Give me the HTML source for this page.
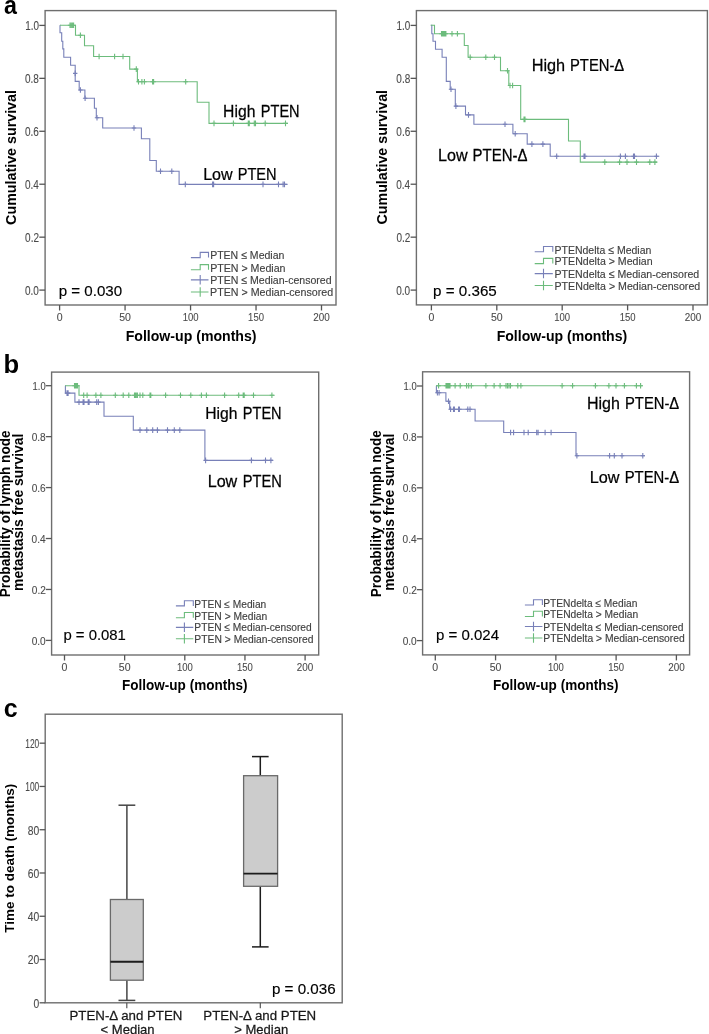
<!DOCTYPE html><html><head><meta charset="utf-8"><style>html,body{margin:0;padding:0;background:#fff}svg{display:block}text{font-family:"Liberation Sans",sans-serif}</style></head><body>
<svg width="709" height="1034" viewBox="0 0 709 1034">
<defs><filter id="sf" x="0" y="0" width="100%" height="100%" filterUnits="userSpaceOnUse"><feGaussianBlur stdDeviation="0.35"/></filter></defs>
<rect width="709" height="1034" fill="#fff"/>
<g filter="url(#sf)">
<text transform="translate(3.92 13.50) scale(0.9302 1)" font-size="25" font-weight="bold" fill="#000">a</text>
<text transform="translate(3.41 372.70) scale(1.0240 1)" font-size="25" font-weight="bold" fill="#000">b</text>
<text transform="translate(3.72 717.10) scale(1.0004 1)" font-size="25" font-weight="bold" fill="#000">c</text>
<rect x="45.10" y="10.60" width="290.90" height="294.40" fill="none" stroke="#6e6e6e" stroke-width="1.4"/>
<line x1="39.30" y1="290.10" x2="45.10" y2="290.10" stroke="#555" stroke-width="1.3"/>
<text transform="translate(24.99 294.80) scale(0.8000 1)" font-size="12.5" stroke="#4a4a4a" stroke-width="0.1" fill="#4a4a4a">0.0</text>
<line x1="39.30" y1="237.16" x2="45.10" y2="237.16" stroke="#555" stroke-width="1.3"/>
<text transform="translate(25.10 241.86) scale(0.8000 1)" font-size="12.5" stroke="#4a4a4a" stroke-width="0.1" fill="#4a4a4a">0.2</text>
<line x1="39.30" y1="184.22" x2="45.10" y2="184.22" stroke="#555" stroke-width="1.3"/>
<text transform="translate(24.89 188.92) scale(0.8000 1)" font-size="12.5" stroke="#4a4a4a" stroke-width="0.1" fill="#4a4a4a">0.4</text>
<line x1="39.30" y1="131.28" x2="45.10" y2="131.28" stroke="#555" stroke-width="1.3"/>
<text transform="translate(25.04 135.98) scale(0.8000 1)" font-size="12.5" stroke="#4a4a4a" stroke-width="0.1" fill="#4a4a4a">0.6</text>
<line x1="39.30" y1="78.34" x2="45.10" y2="78.34" stroke="#555" stroke-width="1.3"/>
<text transform="translate(25.03 83.04) scale(0.8000 1)" font-size="12.5" stroke="#4a4a4a" stroke-width="0.1" fill="#4a4a4a">0.8</text>
<line x1="39.30" y1="25.40" x2="45.10" y2="25.40" stroke="#555" stroke-width="1.3"/>
<text transform="translate(25.16 30.10) scale(0.7900 1)" font-size="12.5" stroke="#4a4a4a" stroke-width="0.1" fill="#4a4a4a">1.0</text>
<line x1="59.60" y1="305.00" x2="59.60" y2="310.50" stroke="#555" stroke-width="1.3"/>
<text transform="translate(56.66 321.20) scale(0.8950 1)" font-size="11.8" stroke="#4a4a4a" stroke-width="0.1" fill="#4a4a4a">0</text>
<line x1="125.07" y1="305.00" x2="125.07" y2="310.50" stroke="#555" stroke-width="1.3"/>
<text transform="translate(119.20 321.20) scale(0.8950 1)" font-size="11.8" stroke="#4a4a4a" stroke-width="0.1" fill="#4a4a4a">50</text>
<line x1="190.55" y1="305.00" x2="190.55" y2="310.50" stroke="#555" stroke-width="1.3"/>
<text transform="translate(182.63 321.20) scale(0.8050 1)" font-size="11.8" stroke="#4a4a4a" stroke-width="0.1" fill="#4a4a4a">100</text>
<line x1="256.03" y1="305.00" x2="256.03" y2="310.50" stroke="#555" stroke-width="1.3"/>
<text transform="translate(248.10 321.20) scale(0.8050 1)" font-size="11.8" stroke="#4a4a4a" stroke-width="0.1" fill="#4a4a4a">150</text>
<line x1="321.50" y1="305.00" x2="321.50" y2="310.50" stroke="#555" stroke-width="1.3"/>
<text transform="translate(313.23 321.20) scale(0.8400 1)" font-size="11.8" stroke="#4a4a4a" stroke-width="0.1" fill="#4a4a4a">200</text>
<path d="M59.90,25.30 H60.00 V32.70 H61.70 V41.20 H62.80 V48.90 H63.80 V57.30 H70.60 V65.20 H75.20 V73.40 H75.20 V81.40 H79.20 V90.00 H84.90 V98.30 H94.40 V108.20 H96.30 V117.80 H102.70 V128.00 H141.40 V138.70 H149.80 V160.50 H156.30 V171.20 H179.10 V184.40 H287.60" fill="none" stroke="#7880b8" stroke-width="1.1" stroke-linejoin="miter"/>
<path d="M80.40,87.20V92.80M78.20,90.00H82.60M85.10,95.50V101.10M82.90,98.30H87.30M97.00,115.00V120.60M94.80,117.80H99.20M134.00,125.20V130.80M131.80,128.00H136.20M160.50,168.40V174.00M158.30,171.20H162.70M171.80,168.40V174.00M169.60,171.20H174.00M185.30,181.60V187.20M183.10,184.40H187.50M212.60,181.60V187.20M210.40,184.40H214.80M213.60,181.60V187.20M211.40,184.40H215.80M263.00,181.60V187.20M260.80,184.40H265.20M278.50,181.60V187.20M276.30,184.40H280.70M283.10,181.60V187.20M280.90,184.40H285.30M284.50,181.60V187.20M282.30,184.40H286.70M75.20,70.60V76.20M73.00,73.40H77.40" fill="none" stroke="#7880b8" stroke-width="1.1"/>
<path d="M59.90,25.30 H75.50 V35.20 H84.50 V45.70 H93.60 V56.50 H129.70 V69.10 H137.40 V81.80 H197.20 V102.30 H209.00 V123.40 H288.00" fill="none" stroke="#6cbc7c" stroke-width="1.1" stroke-linejoin="miter"/>
<path d="M70.00,22.50V28.10M67.80,25.30H72.20M71.20,22.50V28.10M69.00,25.30H73.40M72.40,22.50V28.10M70.20,25.30H74.60M73.60,22.50V28.10M71.40,25.30H75.80M80.40,32.40V38.00M78.20,35.20H82.60M99.10,53.70V59.30M96.90,56.50H101.30M114.60,53.70V59.30M112.40,56.50H116.80M123.00,53.70V59.30M120.80,56.50H125.20M136.30,66.30V71.90M134.10,69.10H138.50M138.50,79.00V84.60M136.30,81.80H140.70M141.90,79.00V84.60M139.70,81.80H144.10M144.40,79.00V84.60M142.20,81.80H146.60M152.60,79.00V84.60M150.40,81.80H154.80M153.60,79.00V84.60M151.40,81.80H155.80M185.70,79.00V84.60M183.50,81.80H187.90M214.00,120.60V126.20M211.80,123.40H216.20M233.40,120.60V126.20M231.20,123.40H235.60M248.30,120.60V126.20M246.10,123.40H250.50M249.30,120.60V126.20M247.10,123.40H251.50M254.30,120.60V126.20M252.10,123.40H256.50M255.50,120.60V126.20M253.30,123.40H257.70M265.20,120.60V126.20M263.00,123.40H267.40M285.50,120.60V126.20M283.30,123.40H287.70" fill="none" stroke="#6cbc7c" stroke-width="1.1"/>
<text transform="translate(223.11 116.90) scale(0.9521 1)" font-size="16.5" stroke="#000" stroke-width="0.25" fill="#000">High</text>
<text transform="translate(260.81 116.90) scale(0.8812 1)" font-size="16.5" stroke="#000" stroke-width="0.25" fill="#000">PTEN</text>
<text transform="translate(203.18 179.70) scale(0.9739 1)" font-size="16.5" stroke="#000" stroke-width="0.25" fill="#000">Low</text>
<text transform="translate(237.70 179.70) scale(0.8836 1)" font-size="16.5" stroke="#000" stroke-width="0.25" fill="#000">PTEN</text>
<text transform="translate(58.73 295.90) scale(1.0426 1)" font-size="14.5" stroke="#000" stroke-width="0.15" fill="#000">p = 0.030</text>
<path d="M190.90,257.60 H200.20 V252.40 H208.50 V257.60" fill="none" stroke="#7880b8" stroke-width="1.1"/>
<text transform="translate(210.14 259.40) scale(0.9249 1)" font-size="11.4" stroke="#404040" stroke-width="0.15" fill="#404040">PTEN ≤ Median</text>
<path d="M190.90,269.80 H200.20 V264.60 H208.50 V269.80" fill="none" stroke="#6cbc7c" stroke-width="1.1"/>
<text transform="translate(210.13 271.60) scale(0.9341 1)" font-size="11.4" stroke="#404040" stroke-width="0.15" fill="#404040">PTEN &gt; Median</text>
<path d="M190.90,279.90 H208.50 M200.20,275.10 V284.60" fill="none" stroke="#7880b8" stroke-width="1.1"/>
<text transform="translate(210.13 283.90) scale(0.9273 1)" font-size="11.4" stroke="#404040" stroke-width="0.15" fill="#404040">PTEN ≤ Median-censored</text>
<path d="M190.90,292.00 H208.50 M200.20,287.20 V296.70" fill="none" stroke="#6cbc7c" stroke-width="1.1"/>
<text transform="translate(210.12 296.00) scale(0.9368 1)" font-size="11.4" stroke="#404040" stroke-width="0.15" fill="#404040">PTEN &gt; Median-censored</text>
<text transform="translate(15.70 224.89) rotate(-90) scale(1.0213 1)" font-size="14" font-weight="bold" fill="#000">Cumulative survival</text>
<text transform="translate(125.65 341.20) scale(0.9744 1)" font-size="14.5" font-weight="bold" fill="#000">Follow-up (months)</text>
<rect x="416.40" y="10.60" width="291.00" height="294.30" fill="none" stroke="#6e6e6e" stroke-width="1.4"/>
<line x1="410.60" y1="290.10" x2="416.40" y2="290.10" stroke="#555" stroke-width="1.3"/>
<text transform="translate(396.29 294.80) scale(0.8000 1)" font-size="12.5" stroke="#4a4a4a" stroke-width="0.1" fill="#4a4a4a">0.0</text>
<line x1="410.60" y1="237.16" x2="416.40" y2="237.16" stroke="#555" stroke-width="1.3"/>
<text transform="translate(396.40 241.86) scale(0.8000 1)" font-size="12.5" stroke="#4a4a4a" stroke-width="0.1" fill="#4a4a4a">0.2</text>
<line x1="410.60" y1="184.22" x2="416.40" y2="184.22" stroke="#555" stroke-width="1.3"/>
<text transform="translate(396.19 188.92) scale(0.8000 1)" font-size="12.5" stroke="#4a4a4a" stroke-width="0.1" fill="#4a4a4a">0.4</text>
<line x1="410.60" y1="131.28" x2="416.40" y2="131.28" stroke="#555" stroke-width="1.3"/>
<text transform="translate(396.34 135.98) scale(0.8000 1)" font-size="12.5" stroke="#4a4a4a" stroke-width="0.1" fill="#4a4a4a">0.6</text>
<line x1="410.60" y1="78.34" x2="416.40" y2="78.34" stroke="#555" stroke-width="1.3"/>
<text transform="translate(396.33 83.04) scale(0.8000 1)" font-size="12.5" stroke="#4a4a4a" stroke-width="0.1" fill="#4a4a4a">0.8</text>
<line x1="410.60" y1="25.40" x2="416.40" y2="25.40" stroke="#555" stroke-width="1.3"/>
<text transform="translate(396.46 30.10) scale(0.7900 1)" font-size="12.5" stroke="#4a4a4a" stroke-width="0.1" fill="#4a4a4a">1.0</text>
<line x1="431.40" y1="304.90" x2="431.40" y2="310.40" stroke="#555" stroke-width="1.3"/>
<text transform="translate(428.46 321.10) scale(0.8950 1)" font-size="11.8" stroke="#4a4a4a" stroke-width="0.1" fill="#4a4a4a">0</text>
<line x1="496.80" y1="304.90" x2="496.80" y2="310.40" stroke="#555" stroke-width="1.3"/>
<text transform="translate(490.93 321.10) scale(0.8950 1)" font-size="11.8" stroke="#4a4a4a" stroke-width="0.1" fill="#4a4a4a">50</text>
<line x1="562.20" y1="304.90" x2="562.20" y2="310.40" stroke="#555" stroke-width="1.3"/>
<text transform="translate(554.28 321.10) scale(0.8050 1)" font-size="11.8" stroke="#4a4a4a" stroke-width="0.1" fill="#4a4a4a">100</text>
<line x1="627.60" y1="304.90" x2="627.60" y2="310.40" stroke="#555" stroke-width="1.3"/>
<text transform="translate(619.68 321.10) scale(0.8050 1)" font-size="11.8" stroke="#4a4a4a" stroke-width="0.1" fill="#4a4a4a">150</text>
<line x1="693.00" y1="304.90" x2="693.00" y2="310.40" stroke="#555" stroke-width="1.3"/>
<text transform="translate(684.73 321.10) scale(0.8400 1)" font-size="11.8" stroke="#4a4a4a" stroke-width="0.1" fill="#4a4a4a">200</text>
<path d="M430.80,25.30 H431.80 V33.80 H433.00 V41.20 H435.50 V49.20 H442.10 V57.20 H446.30 V81.40 H450.20 V89.30 H455.30 V106.10 H465.50 V114.90 H473.90 V124.30 H512.90 V133.80 H527.20 V144.10 H550.20 V156.30 H659.30" fill="none" stroke="#7880b8" stroke-width="1.1" stroke-linejoin="miter"/>
<path d="M451.00,86.50V92.10M448.80,89.30H453.20M455.90,103.30V108.90M453.70,106.10H458.10M468.50,112.10V117.70M466.30,114.90H470.70M505.00,121.50V127.10M502.80,124.30H507.20M515.20,131.00V136.60M513.00,133.80H517.40M531.90,141.30V146.90M529.70,144.10H534.10M542.90,141.30V146.90M540.70,144.10H545.10M556.70,153.50V159.10M554.50,156.30H558.90M584.00,153.50V159.10M581.80,156.30H586.20M585.00,153.50V159.10M582.80,156.30H587.20M620.40,153.50V159.10M618.20,156.30H622.60M625.40,153.50V159.10M623.20,156.30H627.60M633.50,153.50V159.10M631.30,156.30H635.70M634.50,153.50V159.10M632.30,156.30H636.70M656.40,153.50V159.10M654.20,156.30H658.60" fill="none" stroke="#7880b8" stroke-width="1.1"/>
<path d="M430.80,25.30 H434.50 V33.80 H464.30 V45.50 H468.10 V57.20 H500.50 V70.80 H508.80 V85.50 H520.70 V119.40 H568.50 V141.00 H580.30 V162.10 H657.40" fill="none" stroke="#6cbc7c" stroke-width="1.1" stroke-linejoin="miter"/>
<path d="M441.50,31.00V36.60M439.30,33.80H443.70M442.60,31.00V36.60M440.40,33.80H444.80M443.70,31.00V36.60M441.50,33.80H445.90M444.80,31.00V36.60M442.60,33.80H447.00M445.90,31.00V36.60M443.70,33.80H448.10M452.00,31.00V36.60M449.80,33.80H454.20M457.40,31.00V36.60M455.20,33.80H459.60M470.20,54.40V60.00M468.00,57.20H472.40M485.80,54.40V60.00M483.60,57.20H488.00M494.50,54.40V60.00M492.30,57.20H496.70M507.50,68.00V73.60M505.30,70.80H509.70M510.00,82.70V88.30M507.80,85.50H512.20M512.60,82.70V88.30M510.40,85.50H514.80M524.00,116.60V122.20M521.80,119.40H526.20M525.00,116.60V122.20M522.80,119.40H527.20M604.80,159.30V164.90M602.60,162.10H607.00M619.60,159.30V164.90M617.40,162.10H621.80M627.00,159.30V164.90M624.80,162.10H629.20M636.50,159.30V164.90M634.30,162.10H638.70M649.80,159.30V164.90M647.60,162.10H652.00M654.90,159.30V164.90M652.70,162.10H657.10" fill="none" stroke="#6cbc7c" stroke-width="1.1"/>
<text transform="translate(531.66 70.90) scale(0.9870 1)" font-size="16.5" stroke="#000" stroke-width="0.25" fill="#000">High</text>
<text transform="translate(569.99 70.90) scale(0.8966 1)" font-size="16.5" stroke="#000" stroke-width="0.25" fill="#000">PTEN-Δ</text>
<text transform="translate(438.08 160.90) scale(0.9774 1)" font-size="16.5" stroke="#000" stroke-width="0.25" fill="#000">Low</text>
<text transform="translate(472.57 160.90) scale(0.9068 1)" font-size="16.5" stroke="#000" stroke-width="0.25" fill="#000">PTEN-Δ</text>
<text transform="translate(433.12 296.10) scale(1.0467 1)" font-size="14.5" stroke="#000" stroke-width="0.15" fill="#000">p = 0.365</text>
<path d="M534.70,251.70 H543.50 V246.50 H552.80 V251.70" fill="none" stroke="#7880b8" stroke-width="1.1"/>
<text transform="translate(554.54 253.50) scale(0.9214 1)" font-size="11.4" stroke="#404040" stroke-width="0.15" fill="#404040">PTENdelta ≤ Median</text>
<path d="M534.70,263.60 H543.50 V258.40 H552.80 V263.60" fill="none" stroke="#6cbc7c" stroke-width="1.1"/>
<text transform="translate(554.53 265.40) scale(0.9304 1)" font-size="11.4" stroke="#404040" stroke-width="0.15" fill="#404040">PTENdelta &gt; Median</text>
<path d="M534.70,273.60 H552.80 M543.50,268.80 V278.30" fill="none" stroke="#7880b8" stroke-width="1.1"/>
<text transform="translate(554.53 277.60) scale(0.9291 1)" font-size="11.4" stroke="#404040" stroke-width="0.15" fill="#404040">PTENdelta ≤ Median-censored</text>
<path d="M534.70,285.50 H552.80 M543.50,280.70 V290.20" fill="none" stroke="#6cbc7c" stroke-width="1.1"/>
<text transform="translate(554.53 289.50) scale(0.9338 1)" font-size="11.4" stroke="#404040" stroke-width="0.15" fill="#404040">PTENdelta &gt; Median-censored</text>
<text transform="translate(386.60 224.48) rotate(-90) scale(1.0183 1)" font-size="14" font-weight="bold" fill="#000">Cumulative survival</text>
<text transform="translate(496.66 341.30) scale(0.9714 1)" font-size="14.5" font-weight="bold" fill="#000">Follow-up (months)</text>
<rect x="51.60" y="372.10" width="267.10" height="282.90" fill="none" stroke="#6e6e6e" stroke-width="1.4"/>
<line x1="45.80" y1="640.40" x2="51.60" y2="640.40" stroke="#555" stroke-width="1.3"/>
<text transform="translate(31.66 644.80) scale(0.8700 1)" font-size="11.6" stroke="#4a4a4a" stroke-width="0.1" fill="#4a4a4a">0.0</text>
<line x1="45.80" y1="589.46" x2="51.60" y2="589.46" stroke="#555" stroke-width="1.3"/>
<text transform="translate(31.78 593.86) scale(0.8700 1)" font-size="11.6" stroke="#4a4a4a" stroke-width="0.1" fill="#4a4a4a">0.2</text>
<line x1="45.80" y1="538.52" x2="51.60" y2="538.52" stroke="#555" stroke-width="1.3"/>
<text transform="translate(31.57 542.92) scale(0.8700 1)" font-size="11.6" stroke="#4a4a4a" stroke-width="0.1" fill="#4a4a4a">0.4</text>
<line x1="45.80" y1="487.58" x2="51.60" y2="487.58" stroke="#555" stroke-width="1.3"/>
<text transform="translate(31.71 491.98) scale(0.8700 1)" font-size="11.6" stroke="#4a4a4a" stroke-width="0.1" fill="#4a4a4a">0.6</text>
<line x1="45.80" y1="436.64" x2="51.60" y2="436.64" stroke="#555" stroke-width="1.3"/>
<text transform="translate(31.71 441.04) scale(0.8700 1)" font-size="11.6" stroke="#4a4a4a" stroke-width="0.1" fill="#4a4a4a">0.8</text>
<line x1="45.80" y1="385.70" x2="51.60" y2="385.70" stroke="#555" stroke-width="1.3"/>
<text transform="translate(32.61 390.10) scale(0.8100 1)" font-size="11.6" stroke="#4a4a4a" stroke-width="0.1" fill="#4a4a4a">1.0</text>
<line x1="64.50" y1="655.00" x2="64.50" y2="660.50" stroke="#555" stroke-width="1.3"/>
<text transform="translate(61.56 670.60) scale(0.8950 1)" font-size="11.8" stroke="#4a4a4a" stroke-width="0.1" fill="#4a4a4a">0</text>
<line x1="124.65" y1="655.00" x2="124.65" y2="660.50" stroke="#555" stroke-width="1.3"/>
<text transform="translate(118.78 670.60) scale(0.8950 1)" font-size="11.8" stroke="#4a4a4a" stroke-width="0.1" fill="#4a4a4a">50</text>
<line x1="184.80" y1="655.00" x2="184.80" y2="660.50" stroke="#555" stroke-width="1.3"/>
<text transform="translate(176.88 670.60) scale(0.8050 1)" font-size="11.8" stroke="#4a4a4a" stroke-width="0.1" fill="#4a4a4a">100</text>
<line x1="244.95" y1="655.00" x2="244.95" y2="660.50" stroke="#555" stroke-width="1.3"/>
<text transform="translate(237.03 670.60) scale(0.8050 1)" font-size="11.8" stroke="#4a4a4a" stroke-width="0.1" fill="#4a4a4a">150</text>
<line x1="305.10" y1="655.00" x2="305.10" y2="660.50" stroke="#555" stroke-width="1.3"/>
<text transform="translate(296.83 670.60) scale(0.8400 1)" font-size="11.8" stroke="#4a4a4a" stroke-width="0.1" fill="#4a4a4a">200</text>
<path d="M65.10,385.70 H65.40 V393.10 H74.90 V402.10 H104.00 V416.20 H133.30 V430.10 H204.90 V460.40 H273.30" fill="none" stroke="#7880b8" stroke-width="1.1" stroke-linejoin="miter"/>
<path d="M67.00,390.30V395.90M64.80,393.10H69.20M68.10,390.30V395.90M65.90,393.10H70.30M79.00,399.30V404.90M76.80,402.10H81.20M83.10,399.30V404.90M80.90,402.10H85.30M84.00,399.30V404.90M81.80,402.10H86.20M88.20,399.30V404.90M86.00,402.10H90.40M89.10,399.30V404.90M86.90,402.10H91.30M96.70,399.30V404.90M94.50,402.10H98.90M98.40,399.30V404.90M96.20,402.10H100.60M140.00,427.30V432.90M137.80,430.10H142.20M146.80,427.30V432.90M144.60,430.10H149.00M152.70,427.30V432.90M150.50,430.10H154.90M157.40,427.30V432.90M155.20,430.10H159.60M167.50,427.30V432.90M165.30,430.10H169.70M174.30,427.30V432.90M172.10,430.10H176.50M179.80,427.30V432.90M177.60,430.10H182.00M205.60,457.60V463.20M203.40,460.40H207.80M251.40,457.60V463.20M249.20,460.40H253.60M265.50,457.60V463.20M263.30,460.40H267.70M270.90,457.60V463.20M268.70,460.40H273.10" fill="none" stroke="#7880b8" stroke-width="1.1"/>
<path d="M65.10,385.70 H79.00 V395.20 H274.70" fill="none" stroke="#6cbc7c" stroke-width="1.1" stroke-linejoin="miter"/>
<path d="M74.50,382.90V388.50M72.30,385.70H76.70M75.50,382.90V388.50M73.30,385.70H77.70M76.50,382.90V388.50M74.30,385.70H78.70M77.50,382.90V388.50M75.30,385.70H79.70M83.70,392.40V398.00M81.50,395.20H85.90M87.10,392.40V398.00M84.90,395.20H89.30M95.90,392.40V398.00M93.70,395.20H98.10M100.90,392.40V398.00M98.70,395.20H103.10M115.30,392.40V398.00M113.10,395.20H117.50M123.20,392.40V398.00M121.00,395.20H125.40M128.80,392.40V398.00M126.60,395.20H131.00M134.50,392.40V398.00M132.30,395.20H136.70M135.30,392.40V398.00M133.10,395.20H137.50M136.20,392.40V398.00M134.00,395.20H138.40M137.40,392.40V398.00M135.20,395.20H139.60M140.00,392.40V398.00M137.80,395.20H142.20M142.80,392.40V398.00M140.60,395.20H145.00M150.00,392.40V398.00M147.80,395.20H152.20M150.80,392.40V398.00M148.60,395.20H153.00M165.60,392.40V398.00M163.40,395.20H167.80M180.50,392.40V398.00M178.30,395.20H182.70M190.80,392.40V398.00M188.60,395.20H193.00M201.40,392.40V398.00M199.20,395.20H203.60M206.40,392.40V398.00M204.20,395.20H208.60M224.60,392.40V398.00M222.40,395.20H226.80M238.70,392.40V398.00M236.50,395.20H240.90M243.20,392.40V398.00M241.00,395.20H245.40M244.20,392.40V398.00M242.00,395.20H246.40M253.50,392.40V398.00M251.30,395.20H255.70M271.90,392.40V398.00M269.70,395.20H274.10" fill="none" stroke="#6cbc7c" stroke-width="1.1"/>
<text transform="translate(205.22 418.70) scale(0.9489 1)" font-size="16.5" stroke="#000" stroke-width="0.25" fill="#000">High</text>
<text transform="translate(242.81 418.70) scale(0.8812 1)" font-size="16.5" stroke="#000" stroke-width="0.25" fill="#000">PTEN</text>
<text transform="translate(207.68 486.70) scale(0.9774 1)" font-size="16.5" stroke="#000" stroke-width="0.25" fill="#000">Low</text>
<text transform="translate(242.80 486.70) scale(0.8885 1)" font-size="16.5" stroke="#000" stroke-width="0.25" fill="#000">PTEN</text>
<text transform="translate(63.44 639.70) scale(1.0631 1)" font-size="14" stroke="#000" stroke-width="0.15" fill="#000">p = 0.081</text>
<path d="M175.90,605.90 H184.40 V600.70 H193.30 V605.90" fill="none" stroke="#7880b8" stroke-width="1.1"/>
<text transform="translate(194.36 607.70) scale(0.9355 1)" font-size="10.9" stroke="#404040" stroke-width="0.15" fill="#404040">PTEN ≤ Median</text>
<path d="M175.90,617.70 H184.40 V612.50 H193.30 V617.70" fill="none" stroke="#6cbc7c" stroke-width="1.1"/>
<text transform="translate(194.35 619.50) scale(0.9453 1)" font-size="10.9" stroke="#404040" stroke-width="0.15" fill="#404040">PTEN &gt; Median</text>
<path d="M175.90,627.40 H193.30 M184.40,622.60 V632.10" fill="none" stroke="#7880b8" stroke-width="1.1"/>
<text transform="translate(194.36 631.40) scale(0.9383 1)" font-size="10.9" stroke="#404040" stroke-width="0.15" fill="#404040">PTEN ≤ Median-censored</text>
<path d="M175.90,638.80 H193.30 M184.40,634.00 V643.50" fill="none" stroke="#6cbc7c" stroke-width="1.1"/>
<text transform="translate(194.35 642.80) scale(0.9475 1)" font-size="10.9" stroke="#404040" stroke-width="0.15" fill="#404040">PTEN &gt; Median-censored</text>
<text transform="translate(10.00 597.31) rotate(-90) scale(0.9583 1)" font-size="14.2" font-weight="bold" fill="#000">Probability of lymph node</text>
<text transform="translate(23.10 590.91) rotate(-90) scale(0.9774 1)" font-size="14.2" font-weight="bold" fill="#000">metastasis free survival</text>
<text transform="translate(121.99 689.60) scale(0.9671 1)" font-size="14" font-weight="bold" fill="#000">Follow-up (months)</text>
<rect x="422.60" y="371.80" width="267.00" height="283.10" fill="none" stroke="#6e6e6e" stroke-width="1.4"/>
<line x1="416.80" y1="640.60" x2="422.60" y2="640.60" stroke="#555" stroke-width="1.3"/>
<text transform="translate(402.66 645.00) scale(0.8700 1)" font-size="11.6" stroke="#4a4a4a" stroke-width="0.1" fill="#4a4a4a">0.0</text>
<line x1="416.80" y1="589.68" x2="422.60" y2="589.68" stroke="#555" stroke-width="1.3"/>
<text transform="translate(402.78 594.08) scale(0.8700 1)" font-size="11.6" stroke="#4a4a4a" stroke-width="0.1" fill="#4a4a4a">0.2</text>
<line x1="416.80" y1="538.76" x2="422.60" y2="538.76" stroke="#555" stroke-width="1.3"/>
<text transform="translate(402.57 543.16) scale(0.8700 1)" font-size="11.6" stroke="#4a4a4a" stroke-width="0.1" fill="#4a4a4a">0.4</text>
<line x1="416.80" y1="487.84" x2="422.60" y2="487.84" stroke="#555" stroke-width="1.3"/>
<text transform="translate(402.71 492.24) scale(0.8700 1)" font-size="11.6" stroke="#4a4a4a" stroke-width="0.1" fill="#4a4a4a">0.6</text>
<line x1="416.80" y1="436.92" x2="422.60" y2="436.92" stroke="#555" stroke-width="1.3"/>
<text transform="translate(402.71 441.32) scale(0.8700 1)" font-size="11.6" stroke="#4a4a4a" stroke-width="0.1" fill="#4a4a4a">0.8</text>
<line x1="416.80" y1="386.00" x2="422.60" y2="386.00" stroke="#555" stroke-width="1.3"/>
<text transform="translate(403.61 390.40) scale(0.8100 1)" font-size="11.6" stroke="#4a4a4a" stroke-width="0.1" fill="#4a4a4a">1.0</text>
<line x1="435.30" y1="654.90" x2="435.30" y2="660.40" stroke="#555" stroke-width="1.3"/>
<text transform="translate(432.36 670.50) scale(0.8950 1)" font-size="11.8" stroke="#4a4a4a" stroke-width="0.1" fill="#4a4a4a">0</text>
<line x1="495.57" y1="654.90" x2="495.57" y2="660.40" stroke="#555" stroke-width="1.3"/>
<text transform="translate(489.70 670.50) scale(0.8950 1)" font-size="11.8" stroke="#4a4a4a" stroke-width="0.1" fill="#4a4a4a">50</text>
<line x1="555.85" y1="654.90" x2="555.85" y2="660.40" stroke="#555" stroke-width="1.3"/>
<text transform="translate(547.93 670.50) scale(0.8050 1)" font-size="11.8" stroke="#4a4a4a" stroke-width="0.1" fill="#4a4a4a">100</text>
<line x1="616.12" y1="654.90" x2="616.12" y2="660.40" stroke="#555" stroke-width="1.3"/>
<text transform="translate(608.20 670.50) scale(0.8050 1)" font-size="11.8" stroke="#4a4a4a" stroke-width="0.1" fill="#4a4a4a">150</text>
<line x1="676.40" y1="654.90" x2="676.40" y2="660.40" stroke="#555" stroke-width="1.3"/>
<text transform="translate(668.13 670.50) scale(0.8400 1)" font-size="11.8" stroke="#4a4a4a" stroke-width="0.1" fill="#4a4a4a">200</text>
<path d="M436.10,385.80 H436.40 V392.80 H445.90 V401.30 H449.70 V409.30 H475.10 V421.00 H503.70 V432.50 H576.00 V455.70 H644.90" fill="none" stroke="#7880b8" stroke-width="1.1" stroke-linejoin="miter"/>
<path d="M437.40,390.00V395.60M435.20,392.80H439.60M439.10,390.00V395.60M436.90,392.80H441.30M448.50,398.50V404.10M446.30,401.30H450.70M450.60,406.50V412.10M448.40,409.30H452.80M453.50,406.50V412.10M451.30,409.30H455.70M454.40,406.50V412.10M452.20,409.30H456.60M458.60,406.50V412.10M456.40,409.30H460.80M459.40,406.50V412.10M457.20,409.30H461.60M467.80,406.50V412.10M465.60,409.30H470.00M470.00,406.50V412.10M467.80,409.30H472.20M510.60,429.70V435.30M508.40,432.50H512.80M513.60,429.70V435.30M511.40,432.50H515.80M524.00,429.70V435.30M521.80,432.50H526.20M528.20,429.70V435.30M526.00,432.50H530.40M536.70,429.70V435.30M534.50,432.50H538.90M538.10,429.70V435.30M535.90,432.50H540.30M545.10,429.70V435.30M542.90,432.50H547.30M551.10,429.70V435.30M548.90,432.50H553.30M576.90,452.90V458.50M574.70,455.70H579.10M609.60,452.90V458.50M607.40,455.70H611.80M614.30,452.90V458.50M612.10,455.70H616.50M622.00,452.90V458.50M619.80,455.70H624.20M642.80,452.90V458.50M640.60,455.70H645.00" fill="none" stroke="#7880b8" stroke-width="1.1"/>
<path d="M436.10,385.80 H642.80" fill="none" stroke="#6cbc7c" stroke-width="1.1" stroke-linejoin="miter"/>
<path d="M438.60,383.00V388.60M436.40,385.80H440.80M446.00,383.00V388.60M443.80,385.80H448.20M447.00,383.00V388.60M444.80,385.80H449.20M448.00,383.00V388.60M445.80,385.80H450.20M449.00,383.00V388.60M446.80,385.80H451.20M450.00,383.00V388.60M447.80,385.80H452.20M455.10,383.00V388.60M452.90,385.80H457.30M460.20,383.00V388.60M458.00,385.80H462.40M466.60,383.00V388.60M464.40,385.80H468.80M468.70,383.00V388.60M466.50,385.80H470.90M471.30,383.00V388.60M469.10,385.80H473.50M485.90,383.00V388.60M483.70,385.80H488.10M494.10,383.00V388.60M491.90,385.80H496.30M500.10,383.00V388.60M497.90,385.80H502.30M506.00,383.00V388.60M503.80,385.80H508.20M507.50,383.00V388.60M505.30,385.80H509.70M509.00,383.00V388.60M506.80,385.80H511.20M510.50,383.00V388.60M508.30,385.80H512.70M517.80,383.00V388.60M515.60,385.80H520.00M520.90,383.00V388.60M518.70,385.80H523.10M562.10,383.00V388.60M559.90,385.80H564.30M572.60,383.00V388.60M570.40,385.80H574.80M595.40,383.00V388.60M593.20,385.80H597.60M608.90,383.00V388.60M606.70,385.80H611.10M616.00,383.00V388.60M613.80,385.80H618.20M624.40,383.00V388.60M622.20,385.80H626.60M636.40,383.00V388.60M634.20,385.80H638.60M640.60,383.00V388.60M638.40,385.80H642.80" fill="none" stroke="#6cbc7c" stroke-width="1.1"/>
<text transform="translate(586.99 408.90) scale(0.9711 1)" font-size="16.5" stroke="#000" stroke-width="0.25" fill="#000">High</text>
<text transform="translate(624.99 408.90) scale(0.8966 1)" font-size="16.5" stroke="#000" stroke-width="0.25" fill="#000">PTEN-Δ</text>
<text transform="translate(589.77 483.00) scale(0.9843 1)" font-size="16.5" stroke="#000" stroke-width="0.25" fill="#000">Low</text>
<text transform="translate(624.68 483.00) scale(0.9017 1)" font-size="16.5" stroke="#000" stroke-width="0.25" fill="#000">PTEN-Δ</text>
<text transform="translate(435.93 639.70) scale(1.0737 1)" font-size="14" stroke="#000" stroke-width="0.15" fill="#000">p = 0.024</text>
<path d="M524.90,605.00 H533.50 V599.80 H542.40 V605.00" fill="none" stroke="#7880b8" stroke-width="1.1"/>
<text transform="translate(543.26 606.80) scale(0.9374 1)" font-size="10.9" stroke="#404040" stroke-width="0.15" fill="#404040">PTENdelta ≤ Median</text>
<path d="M524.90,616.50 H533.50 V611.30 H542.40 V616.50" fill="none" stroke="#6cbc7c" stroke-width="1.1"/>
<text transform="translate(543.26 618.30) scale(0.9408 1)" font-size="10.9" stroke="#404040" stroke-width="0.15" fill="#404040">PTENdelta &gt; Median</text>
<path d="M524.90,626.50 H542.40 M533.50,621.70 V631.20" fill="none" stroke="#7880b8" stroke-width="1.1"/>
<text transform="translate(543.26 630.50) scale(0.9432 1)" font-size="10.9" stroke="#404040" stroke-width="0.15" fill="#404040">PTENdelta ≤ Median-censored</text>
<path d="M524.90,638.00 H542.40 M533.50,633.20 V642.70" fill="none" stroke="#6cbc7c" stroke-width="1.1"/>
<text transform="translate(543.25 642.00) scale(0.9489 1)" font-size="10.9" stroke="#404040" stroke-width="0.15" fill="#404040">PTENdelta &gt; Median-censored</text>
<text transform="translate(380.70 597.31) rotate(-90) scale(0.9588 1)" font-size="14.2" font-weight="bold" fill="#000">Probability of lymph node</text>
<text transform="translate(393.90 590.71) rotate(-90) scale(0.9762 1)" font-size="14.2" font-weight="bold" fill="#000">metastasis free survival</text>
<text transform="translate(492.99 689.60) scale(0.9671 1)" font-size="14" font-weight="bold" fill="#000">Follow-up (months)</text>
<rect x="45.20" y="714.20" width="297.00" height="288.60" fill="none" stroke="#6e6e6e" stroke-width="1.4"/>
<line x1="39.60" y1="1002.80" x2="45.20" y2="1002.80" stroke="#555" stroke-width="1.3"/>
<text transform="translate(33.56 1007.60) scale(0.8600 1)" font-size="12.0" stroke="#4a4a4a" stroke-width="0.1" fill="#4a4a4a">0</text>
<line x1="39.60" y1="959.53" x2="45.20" y2="959.53" stroke="#555" stroke-width="1.3"/>
<text transform="translate(27.82 964.33) scale(0.8600 1)" font-size="12.0" stroke="#4a4a4a" stroke-width="0.1" fill="#4a4a4a">20</text>
<line x1="39.60" y1="916.26" x2="45.20" y2="916.26" stroke="#555" stroke-width="1.3"/>
<text transform="translate(27.82 921.06) scale(0.8600 1)" font-size="12.0" stroke="#4a4a4a" stroke-width="0.1" fill="#4a4a4a">40</text>
<line x1="39.60" y1="872.99" x2="45.20" y2="872.99" stroke="#555" stroke-width="1.3"/>
<text transform="translate(27.82 877.79) scale(0.8600 1)" font-size="12.0" stroke="#4a4a4a" stroke-width="0.1" fill="#4a4a4a">60</text>
<line x1="39.60" y1="829.72" x2="45.20" y2="829.72" stroke="#555" stroke-width="1.3"/>
<text transform="translate(27.82 834.52) scale(0.8600 1)" font-size="12.0" stroke="#4a4a4a" stroke-width="0.1" fill="#4a4a4a">80</text>
<line x1="39.60" y1="786.45" x2="45.20" y2="786.45" stroke="#555" stroke-width="1.3"/>
<text transform="translate(25.21 791.25) scale(0.7000 1)" font-size="12.0" stroke="#4a4a4a" stroke-width="0.1" fill="#4a4a4a">100</text>
<line x1="39.60" y1="743.18" x2="45.20" y2="743.18" stroke="#555" stroke-width="1.3"/>
<text transform="translate(25.21 747.98) scale(0.7000 1)" font-size="12.0" stroke="#4a4a4a" stroke-width="0.1" fill="#4a4a4a">120</text>
<line x1="126.80" y1="1002.80" x2="126.80" y2="1008.30" stroke="#555" stroke-width="1.2"/>
<line x1="260.30" y1="1002.80" x2="260.30" y2="1008.30" stroke="#555" stroke-width="1.2"/>
<text transform="translate(14.20 932.65) rotate(-90) scale(0.9932 1)" font-size="13.6" font-weight="bold" fill="#000">Time to death (months)</text>
<line x1="126.90" y1="805.20" x2="126.90" y2="899.50" stroke="#444" stroke-width="1.5"/>
<line x1="126.90" y1="980.20" x2="126.90" y2="1000.40" stroke="#444" stroke-width="1.5"/>
<line x1="118.50" y1="805.20" x2="135.30" y2="805.20" stroke="#444" stroke-width="1.5"/>
<line x1="118.50" y1="1000.40" x2="135.30" y2="1000.40" stroke="#444" stroke-width="1.5"/>
<rect x="110.40" y="899.50" width="32.90" height="80.70" fill="#cccccc" stroke="#6a6a6a" stroke-width="1.3"/>
<line x1="110.40" y1="961.70" x2="143.30" y2="961.70" stroke="#1a1a1a" stroke-width="1.9"/>
<line x1="260.30" y1="756.60" x2="260.30" y2="775.70" stroke="#1a1a1a" stroke-width="1.5"/>
<line x1="260.30" y1="886.30" x2="260.30" y2="946.90" stroke="#1a1a1a" stroke-width="1.5"/>
<line x1="252.00" y1="756.60" x2="268.60" y2="756.60" stroke="#1a1a1a" stroke-width="1.5"/>
<line x1="252.00" y1="946.90" x2="268.60" y2="946.90" stroke="#1a1a1a" stroke-width="1.5"/>
<rect x="243.60" y="775.70" width="34.00" height="110.60" fill="#cccccc" stroke="#6a6a6a" stroke-width="1.3"/>
<line x1="243.60" y1="873.60" x2="277.60" y2="873.60" stroke="#1a1a1a" stroke-width="1.9"/>
<text transform="translate(271.92 993.70) scale(1.0472 1)" font-size="14.5" stroke="#000" stroke-width="0.15" fill="#000">p = 0.036</text>
<text transform="translate(69.51 1019.80) scale(0.9847 1)" font-size="13.5" stroke="#1a1a1a" stroke-width="0.25" fill="#1a1a1a">PTEN-Δ and PTEN</text>
<text transform="translate(100.56 1033.80) scale(0.9675 1)" font-size="13.5" stroke="#1a1a1a" stroke-width="0.25" fill="#1a1a1a">&lt; Median</text>
<text transform="translate(203.31 1019.80) scale(0.9847 1)" font-size="13.5" stroke="#1a1a1a" stroke-width="0.25" fill="#1a1a1a">PTEN-Δ and PTEN</text>
<text transform="translate(234.16 1033.80) scale(0.9675 1)" font-size="13.5" stroke="#1a1a1a" stroke-width="0.25" fill="#1a1a1a">&gt; Median</text>
</g>
</svg></body></html>
